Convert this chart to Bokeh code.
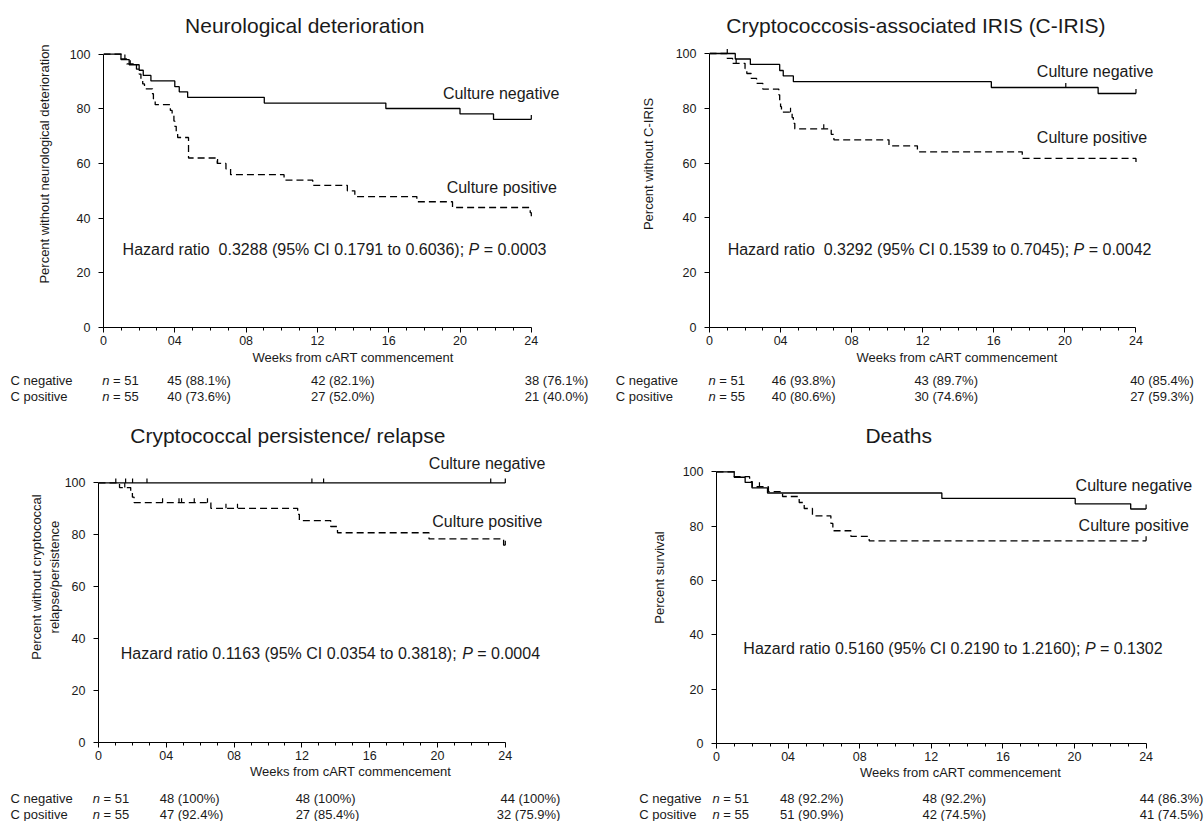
import numpy as np
from bokeh.plotting import figure
from bokeh.models import Range1d, FixedTicker, Label
from bokeh.layouts import column, row
from bokeh.embed import file_html
from bokeh.resources import INLINE

FONT = "Liberation Sans"
INK = "#1a1a1a"

# ---------------- data ----------------
WEEK_TICKS = [0, 4, 8, 12, 16, 20, 24]
WEEK_TICK_LABELS = ["0", "04", "08", "12", "16", "20", "24"]
WEEK_MINOR_TICKS = [1, 2, 3, 5, 6, 7, 9, 10, 11, 13, 14, 15, 17, 18, 19, 21, 22, 23]
PCT_TICKS = [0, 20, 40, 60, 80, 100]

GROUP_LABELS = ["Culture negative", "Culture positive"]
ROW_LABELS = ["C negative", "C positive"]
N_AT_START = [51, 55]

# Neurological deterioration
NEURO_NEG_T = [0, 0.98, 1.44, 2.0, 2.23, 2.66, 4.0, 4.25, 4.72, 9.02, 15.84, 20.0, 21.88, 24]
NEURO_NEG_S = [100, 98.0, 96.1, 94.1, 92.2, 90.2, 88.1, 86.2, 84.2, 82.1, 80.1, 78.1, 76.1, 76.1]
NEURO_NEG_CENS = [1.5, 24]
NEURO_POS_T = [0, 1.0, 1.3, 1.85, 2.0, 2.1, 2.2, 2.3, 2.75, 2.8, 2.9, 3.75, 3.85, 3.95, 4.0,
               4.08, 4.16, 4.77, 6.38, 6.87, 7.13, 10.13, 11.74, 13.68, 14.1, 17.58, 19.58, 23.94, 24]
NEURO_POS_S = [100, 98.2, 96.4, 94.5, 92.7, 90.9, 89.1, 87.3, 85.5, 83.6, 81.5, 79.4, 77.4, 75.5, 73.6,
               71.5, 69.5, 62.0, 60.0, 58.0, 55.9, 53.9, 52.0, 50.0, 47.9, 46.0, 43.9, 42.0, 40.0]
NEURO_POS_CENS = [1.2, 6.4]
NEURO_HR = ["0.3288", "0.1791", "0.6036", "0.0003"]
NEURO_TABLE_NEG = ["45 (88.1%)", "42 (82.1%)", "38 (76.1%)"]
NEURO_TABLE_POS = ["40 (73.6%)", "27 (52.0%)", "21 (40.0%)"]

# C-IRIS
IRIS_NEG_T = [0, 1.45, 2.3, 3.95, 4.15, 4.72, 15.86, 21.87, 24]
IRIS_NEG_S = [100, 98.0, 96.0, 93.8, 91.8, 89.7, 87.6, 85.4, 85.4]
IRIS_NEG_CENS = [1.0, 20.05, 24]
IRIS_POS_T = [0, 1.0, 1.3, 2.0, 2.1, 2.35, 2.65, 3.0, 3.9, 3.95, 4.0, 4.05, 4.65, 4.72, 4.8,
              6.85, 7.0, 10.1, 11.7, 17.6, 24]
IRIS_POS_S = [100, 98.2, 96.4, 94.5, 92.7, 90.9, 89.1, 87.0, 84.9, 82.5, 80.6, 78.6, 76.6, 74.5, 72.5,
              70.5, 68.5, 66.3, 64.1, 61.7, 59.3]
IRIS_POS_CENS = [1.5, 4.56, 6.43]
IRIS_HR = ["0.3292", "0.1539", "0.7045", "0.0042"]
IRIS_TABLE_NEG = ["46 (93.8%)", "43 (89.7%)", "40 (85.4%)"]
IRIS_TABLE_POS = ["40 (80.6%)", "30 (74.6%)", "27 (59.3%)"]

# Cryptococcal persistence / relapse
RELAPSE_NEG_T = [0, 24]
RELAPSE_NEG_S = [100, 100]
RELAPSE_NEG_CENS = [1.02, 1.6, 2.01, 2.86, 12.59, 13.28, 23.14, 24]
RELAPSE_POS_T = [0, 1.24, 1.9, 2.0, 2.1, 6.63, 11.75, 11.85, 13.7, 14.1, 19.5, 23.9, 24]
RELAPSE_POS_S = [100, 98.2, 96.4, 94.5, 92.4, 90.2, 87.9, 85.5, 83.2, 80.8, 78.4, 76.0, 76.0]
RELAPSE_POS_CENS = [1.55, 3.78, 4.75, 4.9, 5.65, 6.43, 7.52, 8.2, 24]
RELAPSE_HR = ["0.1163", "0.0354", "0.3818", "0.0004"]
RELAPSE_TABLE_NEG = ["48 (100%)", "48 (100%)", "44 (100%)"]
RELAPSE_TABLE_POS = ["47 (92.4%)", "27 (85.4%)", "32 (75.9%)"]

# Deaths
DEATH_NEG_T = [0, 0.99, 1.6, 1.98, 2.85, 12.59, 20.04, 23.14, 24]
DEATH_NEG_S = [100, 98.0, 96.1, 94.1, 92.2, 90.2, 88.2, 86.3, 86.3]
DEATH_NEG_CENS = [24]
DEATH_POS_T = [0, 1.0, 1.85, 2.0, 2.9, 3.69, 4.62, 4.9, 5.36, 6.39, 6.5, 7.51, 8.53, 24]
DEATH_POS_S = [100, 98.2, 96.4, 94.5, 92.7, 90.9, 88.7, 86.5, 83.8, 81.0, 78.3, 76.2, 74.6, 74.6]
DEATH_POS_CENS = [2.4, 24]
DEATH_HR = ["0.5160", "0.2190", "1.2160", "0.1302"]
DEATH_TABLE_NEG = ["48 (92.2%)", "48 (92.2%)", "44 (86.3%)"]
DEATH_TABLE_POS = ["51 (90.9%)", "42 (74.5%)", "41 (74.5%)"]


def step_value(t, s, c):
    i = int(np.searchsorted(np.asarray(t), c, side="right")) - 1
    return s[max(i, 0)]


def add_label(p, x, y, text, size, align="left", style="normal"):
    p.add_layout(Label(x=x, y=y, text=text, text_font=FONT, text_font_size=size,
                       text_align=align, text_baseline="middle", text_color=INK,
                       text_font_style=style))


def make_panel(geom, spec):
    ppx, ppy = geom["ppx"], geom["ppy"]
    left = int(round(geom["x0"]))
    fw = geom["W"] - left
    fh = int(round(geom["y0"]))
    x_end = fw / ppx
    y_end = fh / ppy
    p = figure(frame_width=fw, frame_height=fh, title=None,
               min_border_left=left, min_border_top=0, min_border_right=0,
               min_border_bottom=geom["H"] - fh,
               x_range=Range1d(0, x_end), y_range=Range1d(0, y_end),
               output_backend="svg", toolbar_location=None, tools="")
    p.outline_line_color = None
    p.xgrid.visible = False
    p.ygrid.visible = False
    p.background_fill_color = "white"
    p.border_fill_color = "white"

    xa = p.xaxis[0]
    xa.ticker = FixedTicker(ticks=WEEK_TICKS, minor_ticks=WEEK_MINOR_TICKS)
    xa.major_label_overrides = {t: l for t, l in zip(WEEK_TICKS, WEEK_TICK_LABELS)}
    xa.bounds = (0, 24)
    xa.axis_label = "Weeks from cART commencement"
    xa.axis_label_standoff = geom["xstand"]
    ya = p.yaxis[0]
    ya.ticker = FixedTicker(ticks=PCT_TICKS, minor_ticks=[])
    ya.bounds = (0, 100)
    ya.axis_label = spec["ylabel"]
    ya.axis_label_standoff = geom["ystand"]
    for ax in (xa, ya):
        ax.axis_line_color = "black"
        ax.axis_line_width = 1
        ax.major_tick_line_color = "black"
        ax.minor_tick_line_color = "black"
        ax.major_tick_in = 0
        ax.major_tick_out = 5
        ax.minor_tick_in = 0
        ax.minor_tick_out = 3
        ax.major_label_text_font = FONT
        ax.major_label_text_font_size = "12.5px"
        ax.major_label_text_color = INK
        ax.axis_label_text_font = FONT
        ax.axis_label_text_font_size = "13px"
        ax.axis_label_text_font_style = "normal"
        ax.axis_label_text_color = INK
    xa.major_label_standoff = 3
    ya.major_label_standoff = 8

    for (t, s, cens, dash) in [(spec["neg_t"], spec["neg_s"], spec["neg_c"], "solid"),
                               (spec["pos_t"], spec["pos_s"], spec["pos_c"], "7 4")]:
        p.step(x=t, y=s, mode="after", line_color="black", line_width=1.3, line_dash=dash)
        if cens:
            cy = [step_value(t, s, c) for c in cens]
            p.segment(x0=cens, y0=cy, x1=cens, y1=[v + 4.5 / ppy for v in cy],
                      line_color="black", line_width=1.2)

    tx, ty = spec["title_xy"]
    add_label(p, tx, ty, spec["title"], "21px", align="center")
    for (gx, gy), g in zip(spec["group_xy"], GROUP_LABELS):
        add_label(p, gx, gy, g, "16px")
    hr = spec["hr"]
    sep = "\u00a0 " if spec["double_space"] else " "
    hx, hy, px_, ex = spec["hr_xy"]
    add_label(p, hx, hy, "Hazard ratio" + sep + hr[0] + " (95% CI " + hr[1] + " to " + hr[2] + ");", "16px")
    add_label(p, px_, hy, "P", "16px", style="italic")
    add_label(p, ex, hy, "= " + hr[3], "16px")
    return p


def make_table(geom, spec):
    ppx = geom["ppx"]
    left = int(round(geom["x0"]))
    W, Ht = geom["W"], geom["HT"]
    t = figure(frame_width=W, frame_height=Ht, title=None,
               min_border_left=0, min_border_right=0, min_border_top=0, min_border_bottom=0,
               x_range=Range1d(-left / ppx, (W - left) / ppx), y_range=Range1d(Ht, 0),
               x_axis_type=None, y_axis_type=None,
               output_backend="svg", toolbar_location=None, tools="")
    t.outline_line_color = None
    t.background_fill_color = "white"
    t.border_fill_color = "white"
    lx, nx, cols = spec["tab_x"]
    for ry, rl, n, vals in zip(spec["tab_y"], ROW_LABELS, N_AT_START, spec["table"]):
        add_label(t, lx, ry, rl, "13px")
        add_label(t, nx, ry, "n", "13px", style="italic")
        add_label(t, nx + 10.8 / ppx, ry, "= " + str(n), "13px")
        add_label(t, cols[0], ry, vals[0], "13px")
        add_label(t, cols[1], ry, vals[1], "13px")
        add_label(t, cols[2], ry, vals[2], "13px", align="right")
    return t


G1 = dict(x0=102.6, ppx=17.825, y0=326.7, ppy=2.734, W=602, H=371, HT=40, xstand=2, ystand=15)
G2 = dict(x0=107.0, ppx=17.77, y0=326.7, ppy=2.74, W=602, H=371, HT=40, xstand=2, ystand=17)
G3 = dict(x0=97.6, ppx=16.95, y0=331.3, ppy=2.596, W=602, H=372, HT=38, xstand=1, ystand=0)
G4 = dict(x0=113.6, ppx=17.9, y0=331.7, ppy=2.717, W=602, H=372, HT=38, xstand=1, ystand=13)

S1 = dict(title="Neurological deterioration", title_xy=(11.29, 110.35),
          ylabel="Percent without neurological deterioration",
          neg_t=NEURO_NEG_T, neg_s=NEURO_NEG_S, neg_c=NEURO_NEG_CENS,
          pos_t=NEURO_POS_T, pos_s=NEURO_POS_S, pos_c=NEURO_POS_CENS,
          group_xy=[(19.04, 85.59), (19.25, 51.2)],
          hr=NEURO_HR, double_space=True, hr_xy=(1.07, 28.68, 20.48, 21.33),
          tab_y=[9, 25], tab_x=(-5.22, -0.07, [3.58, 11.64, 27.2]),
          table=[NEURO_TABLE_NEG, NEURO_TABLE_POS])
S2 = dict(title="Cryptococcosis-associated IRIS (C-IRIS)", title_xy=(11.62, 110.1),
          ylabel="Percent without C-IRIS",
          neg_t=IRIS_NEG_T, neg_s=IRIS_NEG_S, neg_c=IRIS_NEG_CENS,
          pos_t=IRIS_POS_T, pos_s=IRIS_POS_S, pos_c=IRIS_POS_CENS,
          group_xy=[(18.42, 93.4), (18.42, 69.3)],
          hr=IRIS_HR, double_space=True, hr_xy=(1.02, 28.6, 20.49, 21.34),
          tab_y=[9, 25], tab_x=(-5.27, -0.06, [3.51, 11.53, 27.25]),
          table=[IRIS_TABLE_NEG, IRIS_TABLE_POS])
S3 = dict(title="Cryptococcal persistence/ relapse", title_xy=(11.17, 118.4),
          ylabel="Percent without cryptococcal\nrelapse/persistence",
          neg_t=RELAPSE_NEG_T, neg_s=RELAPSE_NEG_S, neg_c=RELAPSE_NEG_CENS,
          pos_t=RELAPSE_POS_T, pos_s=RELAPSE_POS_S, pos_c=RELAPSE_POS_CENS,
          group_xy=[(19.49, 107.5), (19.69, 85.0)],
          hr=RELAPSE_HR, double_space=False, hr_xy=(1.31, 34.3, 21.46, 22.35),
          tab_y=[15.3, 30.5], tab_x=(-5.19, -0.34, [3.61, 11.63, 27.25]),
          table=[RELAPSE_TABLE_NEG, RELAPSE_TABLE_POS])
S4 = dict(title="Deaths", title_xy=(10.18, 113.25),
          ylabel="Percent survival",
          neg_t=DEATH_NEG_T, neg_s=DEATH_NEG_S, neg_c=DEATH_NEG_CENS,
          pos_t=DEATH_POS_T, pos_s=DEATH_POS_S, pos_c=DEATH_POS_CENS,
          group_xy=[(20.06, 94.85), (20.23, 80.1)],
          hr=DEATH_HR, double_space=False, hr_xy=(1.50, 35.1, 20.58, 21.42),
          tab_y=[15.3, 30.5], tab_x=(-4.31, -0.22, [3.55, 11.51, 27.2]),
          table=[DEATH_TABLE_NEG, DEATH_TABLE_POS])

p1, t1 = make_panel(G1, S1), make_table(G1, S1)
p2, t2 = make_panel(G2, S2), make_table(G2, S2)
p3, t3 = make_panel(G3, S3), make_table(G3, S3)
p4, t4 = make_panel(G4, S4), make_table(G4, S4)

layout = column(row(p1, p2), row(t1, t2), row(p3, p4), row(t3, t4))
open("out.html", "w").write(file_html(layout, INLINE))
